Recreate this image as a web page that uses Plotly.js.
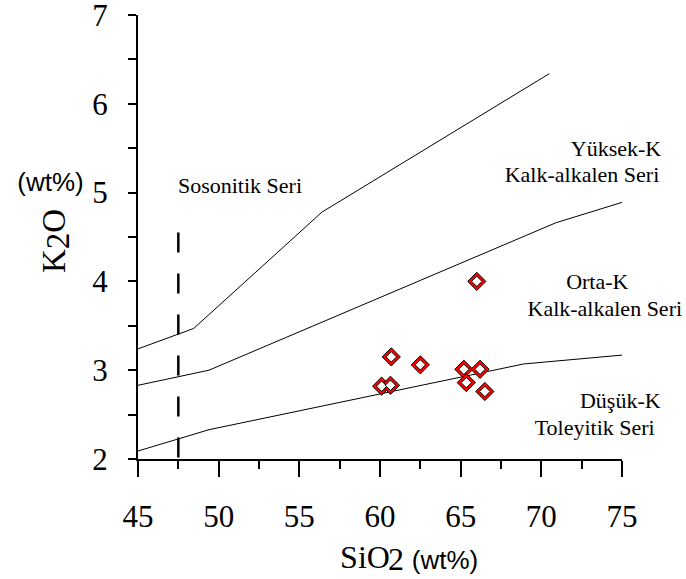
<!DOCTYPE html>
<html>
<head>
<meta charset="utf-8">
<script src="https://cdn.plot.ly/plotly-3.0.1.min.js"></script>
<style>
  html, body { margin: 0; padding: 0; background: #ffffff; }
  #wrap { position: relative; width: 686px; height: 579px; }
  #chart { position: absolute; left: 0; top: 0; width: 686px; height: 579px; }
  #chart .modebar-container { display: none; }
  #labels { position: absolute; left: 0; top: 0; width: 686px; height: 579px; pointer-events: none; z-index: 5; }
  .lbl { position: absolute; white-space: nowrap; color: #000; transform: translateX(-50%); }
  .serif { font-family: 'Liberation Serif', 'Times New Roman', serif; }
  .sans { font-family: 'Liberation Sans', Arial, sans-serif; }
  #ytitle { position: absolute; left: 54px; top: 240.5px; white-space: nowrap; color: #000;
            font-size: 33px; line-height: 33px; transform: translate(-50%, -50%) rotate(-90deg); }
  #ytitle .sub { position: relative; top: 4px; }
</style>
</head>
<body>
<div id="wrap">
  <div id="chart"></div>
  <div id="labels">
    <div id="ytitle" class="serif">K<span class="sub">2</span>O</div>
  </div>
</div>
<script>
// Series boundary lines (SiO2 vs K2O, wt%)
const shoshoniticX = [45, 48.45, 56.4, 70.5];
const shoshoniticY = [3.24, 3.47, 4.78, 6.34];

const highKX = [45, 49.4, 70.9, 75];
const highKY = [2.83, 3.0, 4.66, 4.89];

const lowKX = [45, 49.4, 68.9, 75];
const lowKY = [2.09, 2.33, 3.07, 3.17];

// Vertical dashed divider
const dividerX = [47.5, 47.5];
const dividerY = [4.55, 2];

// Samples
const sampleSiO2 = [60.7, 62.5, 60.1, 60.65, 65.2, 66.2, 65.35, 66.5, 66.0];
const sampleK2O = [3.15, 3.06, 2.82, 2.83, 3.01, 3.01, 2.86, 2.76, 4.0];

// Axis ranges and tick steps
const xRange = [45, 75];
const yRange = [2, 7];
const xTickStep = 5, xMinorStep = 2.5;
const yTickStep = 1, yMinorStep = 0.5;

// Text labels: [text, centre x px, baseline y px, size, font class]
const textLabels = [
  ['Sosonitik Seri', 240, 193, 22, 'serif'],
  ['Y\u00fcksek-K', 616, 156, 22, 'serif'],
  ['Kalk-alkalen Seri', 582, 182.7, 22, 'serif'],
  ['Orta-K', 597.3, 289.3, 22, 'serif'],
  ['Kalk-alkalen Seri', 604.8, 316.7, 22, 'serif'],
  ['D\u00fc\u015f\u00fck-K', 620.3, 408.3, 22, 'serif'],
  ['Toleyitik Seri', 594.7, 435, 22, 'serif'],
  ['SiO', 365, 568, 32, 'serif'],
  ['2', 396, 570, 32, 'serif'],
  ['(wt%)', 445, 569.5, 26, 'sans'],
  ['(wt%)', 50.5, 191.5, 26, 'sans']
];

// Baseline position within a line box whose height equals the font size
const BASELINE = { serif: 0.8375, sans: 0.8465 };

const labelLayer = document.getElementById('labels');
textLabels.forEach(([text, cx, base, size, cls]) => {
  const el = document.createElement('div');
  el.className = 'lbl ' + cls;
  el.textContent = text;
  el.style.fontSize = size + 'px';
  el.style.lineHeight = size + 'px';
  el.style.left = cx + 'px';
  el.style.top = (base - BASELINE[cls] * size) + 'px';
  labelLayer.appendChild(el);
});

const boundary = (x, y) => ({
  x: x, y: y, type: 'scatter', mode: 'lines',
  line: { color: '#000000', width: 1 }
});

const traces = [
  boundary(shoshoniticX, shoshoniticY),
  boundary(highKX, highKY),
  boundary(lowKX, lowKY),
  {
    x: dividerX, y: dividerY, type: 'scatter', mode: 'lines',
    line: { color: '#000000', width: 2.5, dash: '20px,21px' }
  },
  {
    x: sampleSiO2, y: sampleK2O, type: 'scatter', mode: 'markers',
    marker: { symbol: 'diamond', size: 14, color: '#ff0000', line: { color: '#000000', width: 1 } }
  },
  {
    x: sampleSiO2, y: sampleK2O, type: 'scatter', mode: 'markers',
    marker: { symbol: 'diamond', size: 8, color: '#ffffff', line: { color: '#000000', width: 1 } }
  }
];

const layout = {
  width: 686, height: 579,
  margin: { l: 138, r: 64, t: 15, b: 120 },
  showlegend: false,
  font: { family: 'Liberation Serif', color: '#000000' },
  xaxis: {
    range: xRange, dtick: xTickStep, showgrid: false, zeroline: false,
    showline: true, linecolor: '#000', linewidth: 2,
    ticks: 'outside', ticklen: 16, tickwidth: 2, tickcolor: '#000',
    ticklabelstandoff: 13,
    minor: { dtick: xMinorStep, ticks: 'outside', ticklen: 8, tickwidth: 2, tickcolor: '#000' },
    tickfont: { size: 31 }
  },
  yaxis: {
    range: yRange, dtick: yTickStep, showgrid: false, zeroline: false,
    showline: true, linecolor: '#000', linewidth: 2,
    ticks: 'outside', ticklen: 8, tickwidth: 2, tickcolor: '#000',
    ticklabelstandoff: 14, ticklabeloverflow: 'allow',
    minor: { dtick: yMinorStep, ticks: 'outside', ticklen: 8, tickwidth: 2, tickcolor: '#000' },
    tickfont: { size: 31 }
  }
};

Plotly.newPlot('chart', traces, layout);
</script>
</body>
</html>
